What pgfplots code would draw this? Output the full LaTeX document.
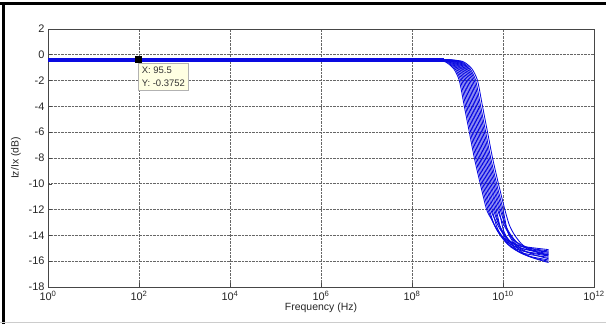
\documentclass[border=0pt]{standalone}
\usepackage{pgfplots}
\pgfplotsset{compat=1.18}
\usepackage{fontspec}
\setmainfont{Liberation Sans}
\definecolor{axgray}{RGB}{70,70,70}
\definecolor{tipfill}{RGB}{255,255,226}
\definecolor{mblue}{RGB}{10,10,225}
\tikzset{curve/.style={mblue, line width=0.85bp, mark=none, smooth, tension=0.45}}
\begin{document}
\begin{tikzpicture}[x=1bp,y=1bp]
\useasboundingbox (0,0) rectangle (606,324);
\fill[white] (0,0) rectangle (606,324);
\begin{axis}[
  at={(48bp,37bp)}, anchor=south west,
  scale only axis, width=546bp, height=258bp,
  xmin=0, xmax=12, ymin=-18, ymax=2,
  xtick={0,2,4,6,8,10,12},
  xticklabels={10\textsuperscript{0},10\textsuperscript{2},10\textsuperscript{4},10\textsuperscript{6},10\textsuperscript{8},10\textsuperscript{10},10\textsuperscript{12}},
  ytick={-18,-16,...,2},
  /pgf/number format/assume math mode=true,
  tick label style={font=\fontsize{11}{13}\selectfont, text=black!85},
  xticklabel style={yshift=-1bp},
  label style={font=\fontsize{10.5}{12}\selectfont, text=black!85},
  xlabel={Frequency (Hz)},
  ylabel={Iz/Ix (dB)},
  xlabel style={yshift=5bp},
  ylabel style={yshift=1bp},
  axis line style={axgray, line width=0.9bp},
  tick style={axgray, line width=0.6bp},
  major tick length=4bp,
  tick align=inside,
  xtick pos=left, ytick pos=left,
  grid=major,
  major grid style={densely dotted, black!60, line width=0.8bp},
  clip=true,
]
% flat part (thick)
\addplot[mblue, line width=3.8bp] coordinates {(0,-0.3752) (8.7,-0.3752)};
% family of curves: x = log10(f), y = dB
\addplot[curve] coordinates {(8.30,-0.375)(8.50,-0.4)(8.70,-0.5)(8.80,-0.7)(8.92,-1.1)(9.04,-2)(9.15,-4)(9.26,-6)(9.37,-8)(9.50,-10)(9.64,-12)(9.74,-12.7)(9.86,-13.5)(10.05,-14.3)(10.35,-14.8)(11.0,-15.1)};
\addplot[curve] coordinates {(8.33,-0.375)(8.53,-0.4)(8.73,-0.5)(8.83,-0.7)(8.95,-1.1)(9.07,-2)(9.18,-4)(9.29,-6)(9.40,-8)(9.53,-10)(9.67,-12)(9.77,-12.9)(9.89,-13.7)(10.08,-14.5)(10.38,-15.0)(11.0,-15.3)};
\addplot[curve] coordinates {(8.36,-0.375)(8.56,-0.4)(8.76,-0.5)(8.86,-0.7)(8.98,-1.1)(9.10,-2)(9.21,-4)(9.32,-6)(9.43,-8)(9.56,-10)(9.70,-12)(9.80,-13.1)(9.92,-13.9)(10.11,-14.7)(10.41,-15.2)(11.0,-15.5)};
\addplot[curve] coordinates {(8.39,-0.375)(8.59,-0.4)(8.79,-0.5)(8.89,-0.7)(9.01,-1.1)(9.13,-2)(9.24,-4)(9.35,-6)(9.46,-8)(9.59,-10)(9.73,-12)(9.83,-12.8)(9.95,-13.6)(10.14,-14.4)(10.44,-14.9)(11.0,-15.2)};
\addplot[curve] coordinates {(8.42,-0.375)(8.62,-0.4)(8.82,-0.5)(8.92,-0.7)(9.04,-1.1)(9.16,-2)(9.27,-4)(9.38,-6)(9.49,-8)(9.62,-10)(9.76,-12)(9.86,-13.3)(9.98,-14.1)(10.17,-14.9)(10.47,-15.4)(11.0,-15.7)};
\addplot[curve] coordinates {(8.45,-0.375)(8.65,-0.4)(8.85,-0.5)(8.95,-0.7)(9.07,-1.1)(9.19,-2)(9.30,-4)(9.41,-6)(9.52,-8)(9.65,-10)(9.79,-12)(9.89,-13.0)(10.01,-13.8)(10.20,-14.6)(10.50,-15.1)(11.0,-15.4)};
\addplot[curve] coordinates {(8.48,-0.375)(8.68,-0.4)(8.88,-0.5)(8.98,-0.7)(9.10,-1.1)(9.22,-2)(9.33,-4)(9.44,-6)(9.55,-8)(9.68,-10)(9.82,-12)(9.92,-13.2)(10.04,-14.0)(10.23,-14.8)(10.53,-15.3)(11.0,-15.6)};
\addplot[curve] coordinates {(8.51,-0.375)(8.71,-0.4)(8.91,-0.5)(9.01,-0.7)(9.13,-1.1)(9.25,-2)(9.36,-4)(9.47,-6)(9.58,-8)(9.71,-10)(9.85,-12)(9.95,-13.5)(10.07,-14.3)(10.26,-15.1)(10.56,-15.6)(11.0,-15.9)};
\addplot[curve] coordinates {(8.54,-0.375)(8.74,-0.4)(8.94,-0.5)(9.04,-0.7)(9.16,-1.1)(9.28,-2)(9.39,-4)(9.50,-6)(9.61,-8)(9.74,-10)(9.88,-12)(9.98,-12.9)(10.10,-13.7)(10.29,-14.5)(10.59,-15.0)(11.0,-15.3)};
\addplot[curve] coordinates {(8.57,-0.375)(8.77,-0.4)(8.97,-0.5)(9.07,-0.7)(9.19,-1.1)(9.31,-2)(9.42,-4)(9.53,-6)(9.64,-8)(9.77,-10)(9.91,-12)(10.01,-13.6)(10.13,-14.4)(10.32,-15.2)(10.62,-15.7)(11.0,-16.0)};
\addplot[curve] coordinates {(8.60,-0.375)(8.80,-0.4)(9.00,-0.5)(9.10,-0.7)(9.22,-1.1)(9.34,-2)(9.45,-4)(9.56,-6)(9.67,-8)(9.80,-10)(9.94,-12)(10.04,-13.1)(10.16,-13.9)(10.35,-14.7)(10.65,-15.2)(11.0,-15.5)};
\addplot[curve] coordinates {(8.63,-0.375)(8.83,-0.4)(9.03,-0.5)(9.13,-0.7)(9.25,-1.1)(9.37,-2)(9.48,-4)(9.59,-6)(9.70,-8)(9.83,-10)(9.97,-12)(10.07,-13.4)(10.19,-14.2)(10.38,-15.0)(10.68,-15.5)(11.0,-15.8)};
\addplot[curve] coordinates {(8.66,-0.375)(8.86,-0.4)(9.06,-0.5)(9.16,-0.7)(9.28,-1.1)(9.40,-2)(9.51,-4)(9.62,-6)(9.73,-8)(9.86,-10)(10.00,-12)(10.10,-13.7)(10.22,-14.5)(10.41,-15.3)(10.71,-15.8)(11.0,-16.1)};
\addplot[curve] coordinates {(8.70,-0.375)(8.90,-0.4)(9.10,-0.5)(9.20,-0.7)(9.32,-1.1)(9.44,-2)(9.55,-4)(9.66,-6)(9.77,-8)(9.90,-10)(10.04,-12)(10.14,-13.2)(10.26,-14.0)(10.45,-14.8)(10.75,-15.3)(11.0,-15.6)};
% data tip
\addplot[only marks, mark=square*, mark size=3bp, black] coordinates {(1.98,-0.3752)};
\node[anchor=north west, draw=black!30, fill=tipfill, inner xsep=3.5bp, inner ysep=3.5bp, align=left,
      font=\fontsize{9.5}{13}\selectfont, text=black!80]
  at (axis cs:1.98,-0.65) {X: 95.5\\Y: -0.3752};
\end{axis}
% screenshot frame
\fill[black] (0,319) rectangle (606,322);
\fill[black] (2,0) rectangle (5,322);
\draw[black!20, line width=1bp] (0,2) -- (606,2);
\end{tikzpicture}
\end{document}
